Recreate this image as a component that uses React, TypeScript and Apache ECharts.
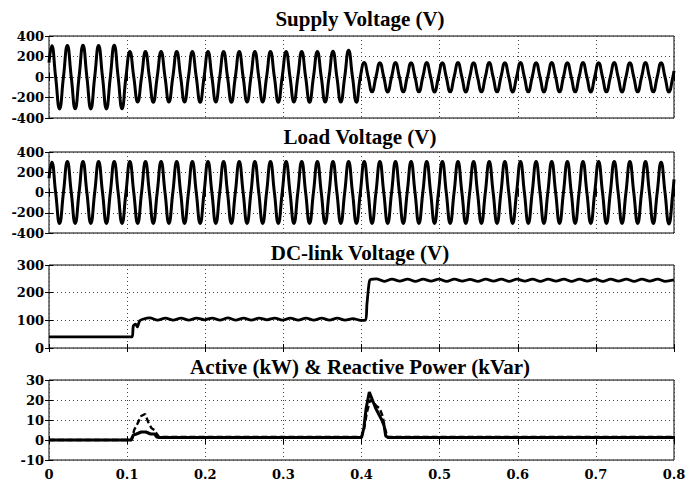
import React, { useEffect, useRef } from "react";
import * as echarts from "echarts";

// ---- data ----
// Sinusoid extremes: one value per half-cycle (50 Hz), first extreme at t0, spacing 0.01 s
const T0 = 0.0035;
const HALF = 0.01;
const supplyStart = 140;
const supplyEnd = 60;
const supplyExtremes = [
  305, -312, 308, -310, 310, -312, 308, -312, 310, -310,
  250, -245, 248, -246, 250, -245, 248, -245, 250, -246,
  248, -245, 250, -246, 248, -245, 250, -245, 248, -246,
  250, -245, 248, -246, 250, -245, 252, -245, 262, -246,
  142, -145, 140, -146, 142, -145, 140, -145, 142, -146,
  140, -145, 142, -146, 140, -145, 142, -145, 140, -146,
  142, -145, 140, -146, 142, -145, 140, -145, 142, -146,
  140, -145, 142, -146, 140, -145, 142, -145, 140, -146,
];
const loadStart = 140;
const loadEnd = 130;
const loadExtremes = [
  300, -305, 305, -305, 305, -305, 305, -305, 305, -305,
  305, -305, 305, -305, 305, -305, 305, -305, 305, -305,
  305, -305, 305, -305, 305, -305, 305, -305, 305, -305,
  305, -305, 305, -305, 305, -305, 305, -305, 305, -305,
  305, -305, 305, -305, 305, -305, 305, -305, 305, -305,
  305, -305, 305, -305, 305, -305, 305, -305, 305, -305,
  305, -305, 305, -305, 305, -305, 305, -305, 305, -305,
  305, -305, 305, -305, 305, -305, 305, -305, 300, -310,
];

// DC-link voltage (t in s, V)
const dcTime = [
  0, 0.106, 0.108, 0.111, 0.113, 0.116, 0.12, 0.129, 0.139, 0.149, 0.159, 0.169,
  0.179, 0.189, 0.199, 0.209, 0.219, 0.229, 0.239, 0.249, 0.259, 0.269, 0.279,
  0.289, 0.299, 0.309, 0.319, 0.329, 0.339, 0.349, 0.359, 0.369, 0.379, 0.389,
  0.399, 0.405, 0.407, 0.41, 0.412, 0.419, 0.429, 0.439, 0.449, 0.459, 0.469,
  0.479, 0.489, 0.499, 0.509, 0.519, 0.529, 0.539, 0.549, 0.559, 0.569, 0.579,
  0.589, 0.599, 0.609, 0.619, 0.629, 0.639, 0.649, 0.659, 0.669, 0.679, 0.689,
  0.699, 0.709, 0.719, 0.729, 0.739, 0.749, 0.759, 0.769, 0.779, 0.789, 0.8,
];
const dcValue = [
  40, 40, 80, 86, 76, 98, 104, 109, 101, 108, 101, 108, 101, 108, 102, 108,
  101, 109, 101, 108, 101, 108, 102, 108, 101, 108, 101, 108, 101, 108, 101,
  108, 101, 106, 100, 101, 160, 240, 248, 250, 241, 249, 242, 249, 241, 249,
  242, 249, 241, 249, 242, 248, 241, 249, 242, 249, 241, 249, 242, 249, 241,
  249, 242, 249, 241, 249, 242, 249, 241, 249, 242, 249, 241, 249, 242, 249,
  241, 246,
];

// Active power (kW) and reactive power (kVar)
const activeTime = [
  0, 0.105, 0.108, 0.112, 0.118, 0.124, 0.13, 0.135, 0.138, 0.141, 0.15, 0.2,
  0.3, 0.4, 0.403, 0.406, 0.41, 0.414, 0.418, 0.422, 0.426, 0.429, 0.431, 0.434,
  0.5, 0.6, 0.7, 0.8,
];
const activeValue = [
  0, 0, 2.5, 3, 4, 4, 3, 3, 1.5, 1.2, 1.2, 1.2, 1.2, 1.2, 6, 16, 24, 20, 16,
  13, 10, 7, 2, 1.2, 1.2, 1.2, 1.2, 1.2,
];
const reactiveTime = [
  0, 0.106, 0.109, 0.113, 0.118, 0.123, 0.127, 0.131, 0.135, 0.138, 0.141,
  0.15, 0.2, 0.3, 0.4, 0.403, 0.407, 0.411, 0.415, 0.419, 0.423, 0.427, 0.43,
  0.433, 0.5, 0.6, 0.7, 0.8,
];
const reactiveValue = [
  0, 0, 5, 8, 12, 13, 9, 6, 5, 3, 1.5, 1.5, 1.5, 1.5, 1.5, 5, 14, 20, 19, 17,
  16, 12, 6, 1.5, 1.5, 1.5, 1.5, 1.5,
];

const xTicks = ["0", "0.1", "0.2", "0.3", "0.4", "0.5", "0.6", "0.7", "0.8"];
const titles = [
  "Supply Voltage (V)",
  "Load Voltage (V)",
  "DC-link Voltage (V)",
  "Active (kW) & Reactive Power (kVar)",
];

function sineSeries(start: number, extremes: number[], end: number) {
  const pts: [number, number][] = [[0, start]];
  extremes.forEach((v, k) => {
    const t = T0 + k * HALF;
    pts.push([t, v]);
    const z = t + HALF / 2;
    if (z < 0.8) pts.push([z, 0]);
  });
  pts.push([0.8, end]);
  return pts;
}

function zip(a: number[], b: number[]) {
  return a.map((t, i) => [t, b[i]]);
}

export default function App() {
  const ref = useRef<HTMLDivElement>(null);
  useEffect(() => {
    if (!ref.current) return;
    const chart = echarts.init(ref.current, undefined, { renderer: "svg" });
    const labelFont = "'DejaVu Serif', serif";
    const titleFont = "'Liberation Serif', 'Times New Roman', serif";
    const gridDefs = [
      { top: 36, height: 82 },
      { top: 152, height: 81 },
      { top: 265, height: 83 },
      { top: 380, height: 84 },
    ];
    const grids = gridDefs.map((g) => ({
      left: 49,
      width: 625,
      top: g.top,
      height: g.height,
      show: true,
      borderColor: "#000",
      borderWidth: 1,
      backgroundColor: "#fff",
    }));
    const yCfg = [
      { min: -400, max: 400, interval: 200 },
      { min: -400, max: 400, interval: 200 },
      { min: 0, max: 300, interval: 100 },
      { min: -10, max: 30, interval: 10 },
    ];
    const gridLine = {
      show: true,
      lineStyle: { color: "#444", type: [1, 3] as any, width: 1 },
    };
    const tick = { show: true, inside: true, length: 4, lineStyle: { color: "#000" } };
    const xAxis: any[] = [];
    const yAxis: any[] = [];
    grids.forEach((_, i) => {
      xAxis.push({
        type: "value",
        gridIndex: i,
        position: "bottom",
        min: 0,
        max: 0.8,
        interval: 0.1,
        axisLine: { show: false },
        axisTick: tick,
        splitLine: gridLine,
        axisLabel: {
          show: i === 3,
          formatter: (v: number) => xTicks[Math.round(v * 10)] ?? "",
          fontFamily: labelFont,
          fontWeight: "bold",
          fontSize: 13,
          color: "#000",
          margin: 8,
        },
      });
      xAxis.push({
        type: "value",
        gridIndex: i,
        position: "top",
        min: 0,
        max: 0.8,
        interval: 0.1,
        axisLine: { show: false },
        axisTick: tick,
        splitLine: { show: false },
        axisLabel: { show: false },
      });
      const c = yCfg[i];
      yAxis.push({
        type: "value",
        gridIndex: i,
        position: "left",
        min: c.min,
        max: c.max,
        interval: c.interval,
        axisLine: { show: false },
        axisTick: tick,
        splitLine: gridLine,
        axisLabel: {
          fontFamily: labelFont,
          fontWeight: "bold",
          fontSize: 13,
          color: "#000",
          margin: 5,
        },
      });
      yAxis.push({
        type: "value",
        gridIndex: i,
        position: "right",
        min: c.min,
        max: c.max,
        interval: c.interval,
        axisLine: { show: false },
        axisTick: tick,
        splitLine: { show: false },
        axisLabel: { show: false },
      });
    });
    const lineBase = {
      type: "line",
      showSymbol: false,
      symbol: "none",
      clip: true,
    };
    const titleTops = [19, 137, 253, 367];
    chart.setOption({
      animation: false,
      backgroundColor: "#fff",
      title: titles.map((t, i) => ({
        text: t,
        left: 360,
        top: titleTops[i],
        textAlign: "center",
        textVerticalAlign: "middle",
        textStyle: {
          fontFamily: titleFont,
          fontWeight: "bold",
          fontSize: 21,
          color: "#000",
        },
        padding: 0,
      })),
      grid: grids,
      xAxis,
      yAxis,
      series: [
        {
          ...lineBase,
          xAxisIndex: 0,
          yAxisIndex: 0,
          smooth: 0.5,
          data: sineSeries(supplyStart, supplyExtremes, supplyEnd),
          lineStyle: { color: "#000", width: 3 },
        },
        {
          ...lineBase,
          xAxisIndex: 2,
          yAxisIndex: 2,
          smooth: 0.5,
          data: sineSeries(loadStart, loadExtremes, loadEnd),
          lineStyle: { color: "#000", width: 3 },
        },
        {
          ...lineBase,
          xAxisIndex: 4,
          yAxisIndex: 4,
          smooth: 0.3,
          data: zip(dcTime, dcValue),
          lineStyle: { color: "#000", width: 2.8 },
        },
        {
          ...lineBase,
          xAxisIndex: 6,
          yAxisIndex: 6,
          data: zip(activeTime, activeValue),
          lineStyle: { color: "#000", width: 3 },
        },
        {
          ...lineBase,
          xAxisIndex: 6,
          yAxisIndex: 6,
          data: zip(reactiveTime, reactiveValue),
          lineStyle: { color: "#000", width: 2.4, type: [6, 3] },
        },
      ],
    });
    return () => chart.dispose();
  }, []);
  return <div ref={ref} style={{ width: 697, height: 481, marginLeft: -8, marginTop: -8 }} />;
}
